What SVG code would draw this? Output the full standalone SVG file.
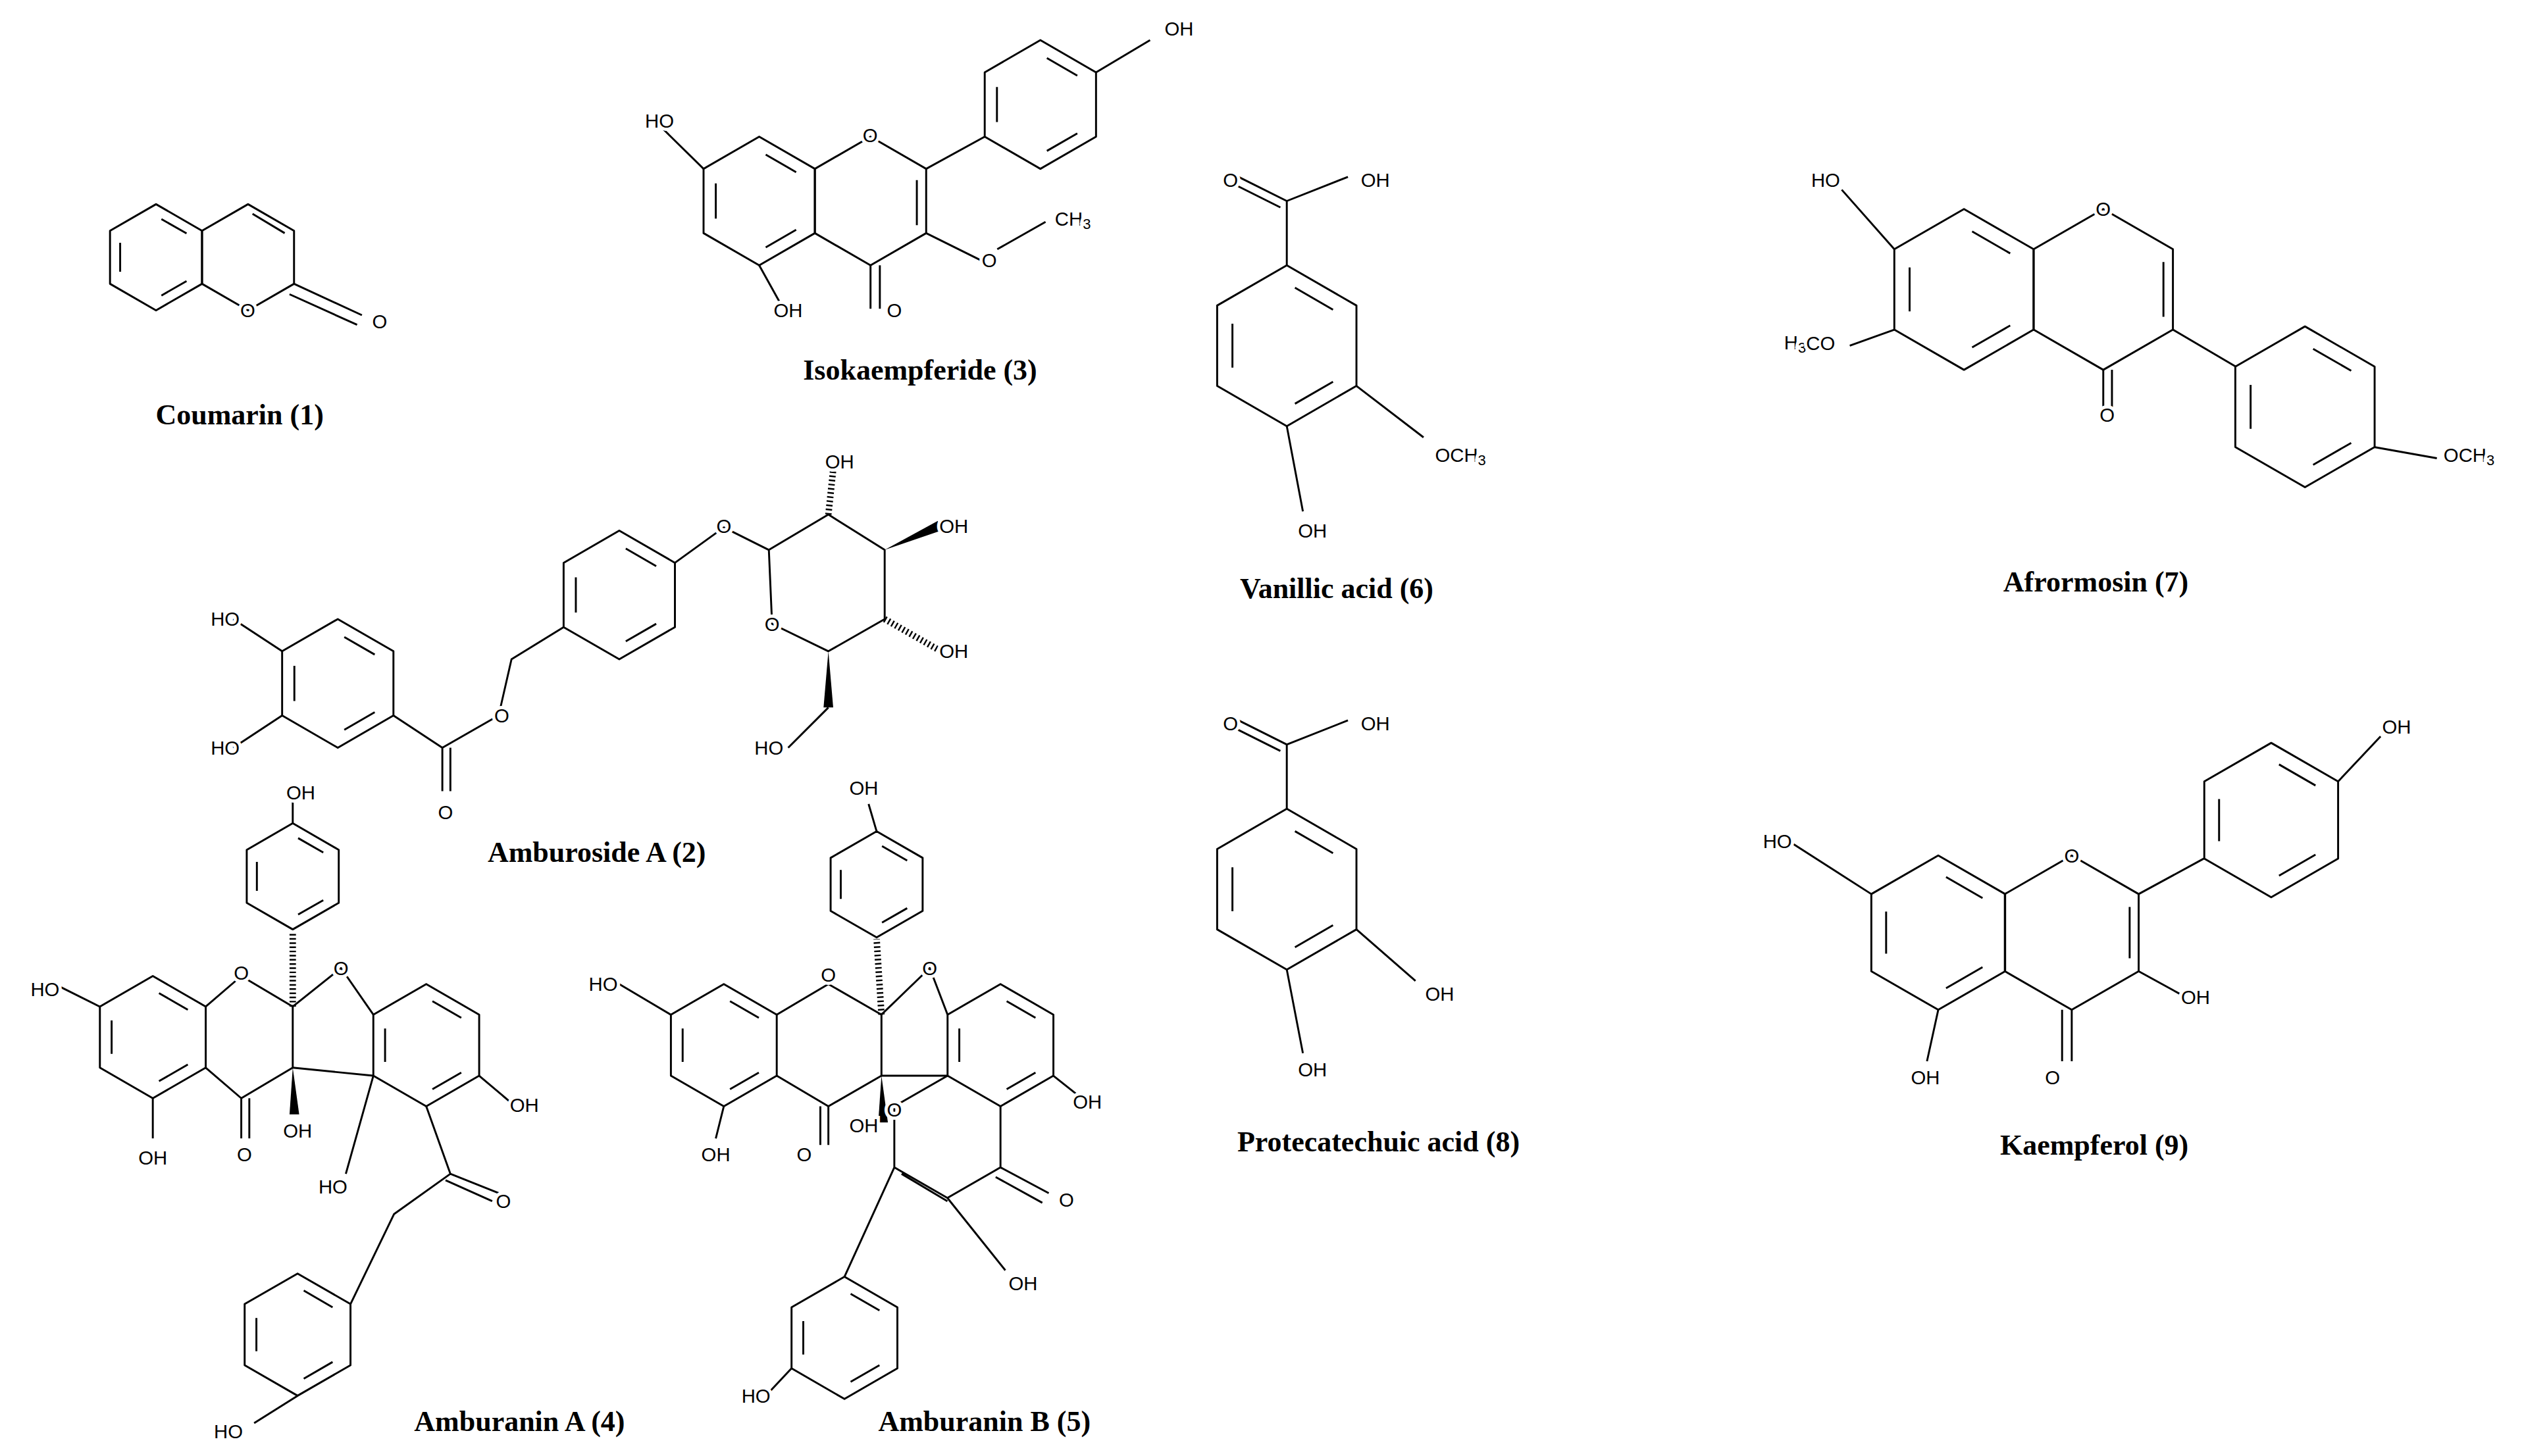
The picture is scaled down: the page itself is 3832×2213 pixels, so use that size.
<svg xmlns="http://www.w3.org/2000/svg" width="3832" height="2213" viewBox="0 0 3832 2213">
<style>
.b{fill:none;stroke:#000;stroke-width:1.2;stroke-linejoin:round}
.d{fill:none;stroke:#000;stroke-width:1.2;stroke-dasharray:0.7 1.3;stroke-dashoffset:-0.15}
.h{fill:none;stroke:#000;stroke-width:4;stroke-dasharray:1 1.6}
.w{fill:#000}
.a{font-family:"Liberation Sans",Arial,sans-serif;font-size:12px;text-anchor:middle;dominant-baseline:central;fill:#000;stroke:#fff;stroke-width:4;paint-order:stroke}
.l{font-family:"Liberation Serif",serif;font-weight:bold;font-size:18px;text-anchor:middle;fill:#000}
</style>
<defs>
<polygon id="h33" class="b" points="0,-33 28.6,-16.5 28.6,16.5 0,33 -28.6,16.5 -28.6,-16.5"/>
<polygon id="d33" class="d" pathLength="6" points="0,-25.7 22.3,-12.9 22.3,12.9 0,25.7 -22.3,12.9 -22.3,-12.9"/>
<polygon id="h38" class="b" points="0,-38 32.9,-19 32.9,19 0,38 -32.9,19 -32.9,-19"/>
<polygon id="d38" class="d" pathLength="6" points="0,-29.6 25.6,-14.8 25.6,14.8 0,29.6 -25.6,14.8 -25.6,-14.8"/>
<polygon id="h40" class="b" points="0,-40 34.6,-20 34.6,20 0,40 -34.6,20 -34.6,-20"/>
<polygon id="d40" class="d" pathLength="6" points="0,-31.2 27,-15.6 27,15.6 0,31.2 -27,15.6 -27,-15.6"/>
<polygon id="h48" class="b" points="0,-48 41.6,-24 41.6,24 0,48 -41.6,24 -41.6,-24"/>
<polygon id="d48" class="d" pathLength="6" points="0,-37.4 32.4,-18.7 32.4,18.7 0,37.4 -32.4,18.7 -32.4,-18.7"/>
<polygon id="h50" class="b" points="0,-50 43.3,-25 43.3,25 0,50 -43.3,25 -43.3,-25"/>
<polygon id="d50" class="d" pathLength="6" points="0,-39 33.8,-19.5 33.8,19.5 0,39 -33.8,19.5 -33.8,-19.5"/>
</defs>
<rect width="3832" height="2213" fill="#fff"/>
<g transform="scale(2.444)">
<g id="coumarin">
<use href="#h33" x="97" y="160"/><use href="#d33" x="97" y="160"/>
<use href="#h33" x="154.2" y="160"/>
<path class="b" d="M157,133 L177,145 M182.8,176.5 L225,196 M180,183 L222,202"/>
<text class="a" x="154" y="193">O</text><text class="a" x="236" y="200">O</text>
<text class="l" x="149" y="264">Coumarin (1)</text>
</g>
<g id="isokaempferide">
<use href="#h40" x="472" y="125"/><use href="#d40" x="472" y="125"/>
<use href="#h40" x="541.2" y="125"/>
<use href="#h40" x="646.8" y="65"/><use href="#d40" x="646.8" y="65"/>
<path class="b" d="M570,112 L570,140 M575.8,105 L612.2,85 M681.4,45 L715,25 M437.4,105 L412,80 M472,165 L487,192 M541.2,165 L541.2,192 M547,165 L547,192 M575.8,145 L610,162 M620,155 L650,138"/>
<text class="a" x="541" y="84">O</text><text class="a" x="733" y="18">OH</text><text class="a" x="410" y="75">HO</text>
<text class="a" x="490" y="193">OH</text><text class="a" x="556" y="193">O</text><text class="a" x="615" y="162">O</text>
<text class="a" x="667" y="136">CH<tspan font-size="9" dy="3">3</tspan></text>
<text class="l" x="572" y="236">Isokaempferide (3)</text>
</g>
<g id="vanillic">
<use href="#h50" x="800" y="215"/><use href="#d50" x="800" y="215"/>
<path class="b" d="M800,165 L800,125 L770,110 M796,129 L768,115 M800,125 L838,110 M800,265 L810,318 M843.3,240 L885,272"/>
<text class="a" x="765" y="112">O</text><text class="a" x="855" y="112">OH</text><text class="a" x="816" y="330">OH</text>
<text class="a" x="908" y="283">OCH<tspan font-size="9" dy="3">3</tspan></text>
<text class="l" x="831" y="372">Vanillic acid (6)</text>
</g>
<g id="protocatechuic">
<use href="#h50" x="800" y="553"/><use href="#d50" x="800" y="553"/>
<path class="b" d="M800,503 L800,463 L770,448 M796,467 L768,453 M800,463 L838,448 M800,603 L810,655 M843.3,578 L880,610"/>
<text class="a" x="765" y="450">O</text><text class="a" x="855" y="450">OH</text><text class="a" x="816" y="665">OH</text><text class="a" x="895" y="618">OH</text>
<text class="l" x="857" y="716">Protecatechuic acid (8)</text>
</g>
<g id="afrormosin">
<use href="#h50" x="1221" y="180"/><use href="#d50" x="1221" y="180"/>
<use href="#h50" x="1307.6" y="180"/>
<use href="#h50" x="1433" y="253"/><use href="#d50" x="1433" y="253"/>
<path class="b" d="M1345,163 L1345,197 M1350.9,205 L1390,228 M1476,278 L1515,285 M1177.7,155 L1145,118 M1177.7,205 L1150,215 M1307.6,230 L1307.6,255 M1313,230 L1313,255"/>
<text class="a" x="1307.6" y="130">O</text><text class="a" x="1135" y="112">HO</text>
<text class="a" x="1125" y="213">H<tspan font-size="9" dy="3">3</tspan><tspan dy="-3">CO</tspan></text>
<text class="a" x="1310" y="258">O</text>
<text class="a" x="1535" y="283">OCH<tspan font-size="9" dy="3">3</tspan></text>
<text class="l" x="1303" y="368">Afrormosin (7)</text>
</g>
<g id="kaempferol">
<use href="#h48" x="1205" y="580"/><use href="#d48" x="1205" y="580"/>
<use href="#h48" x="1288" y="580"/>
<use href="#h48" x="1412" y="510"/><use href="#d48" x="1412" y="510"/>
<path class="b" d="M1324,564 L1324,596 M1329.6,556 L1370,534 M1453.6,486 L1480,458 M1163.4,556 L1115,525 M1205,628 L1198,660 M1288,628 L1288,660 M1282,628 L1282,660 M1329.6,604 L1355,618"/>
<text class="a" x="1288" y="532">O</text><text class="a" x="1490" y="452">OH</text><text class="a" x="1105" y="523">HO</text>
<text class="a" x="1197" y="670">OH</text><text class="a" x="1276" y="670">O</text><text class="a" x="1365" y="620">OH</text>
<text class="l" x="1302" y="718">Kaempferol (9)</text>
</g>
<g id="amburoside">
<use href="#h40" x="210" y="425"/><use href="#d40" x="210" y="425"/>
<use href="#h40" x="385" y="370"/><use href="#d40" x="385" y="370"/>
<path class="b" d="M175.4,405 L145,385 M175.4,445 L145,465 M244.6,445 L275,465 L275,492 M280,465 L280,492 M275,465 L310,445 L318,410 L350.4,390 M419.6,350 L450,328 L478,342 L515,320 L550,342 L550,385 L515,405 L480,388 L478,342"/>
<path class="h" d="M515,320 L518,292 M550,385 L585,405"/>
<polygon class="w" points="550,342 583,324 585,330"/>
<polygon class="w" points="515,405 512,440 518,440"/>
<path class="b" d="M515,440 L490,465"/>
<text class="a" x="140" y="385">HO</text><text class="a" x="140" y="465">HO</text><text class="a" x="277" y="505">O</text>
<text class="a" x="312" y="445">O</text><text class="a" x="450" y="327">O</text><text class="a" x="480" y="388">O</text>
<text class="a" x="522" y="287">OH</text><text class="a" x="593" y="327">OH</text><text class="a" x="593" y="405">OH</text><text class="a" x="478" y="465">HO</text>
<text class="l" x="371" y="536">Amburoside A (2)</text>
</g>
<g id="amburaninA">
<use href="#h38" x="95" y="645"/><use href="#d38" x="95" y="645"/>
<path class="b" d="M127.9,626 L150,607 L182,626 L182,664 L150,683 L127.9,664 M150,683 L150,708 M155,683 L155,708"/>
<use href="#h33" x="182" y="545"/><use href="#d33" x="182" y="545"/>
<path class="h" d="M182,626 L182,580"/>
<path class="b" d="M182,512 L182,498 M182,626 L212,602 L232.1,631 M182,664 L232.1,669 M62,626 L38,614 M95,683 L95,708"/>
<polygon class="w" points="182,664 180,693 186,693"/>
<use href="#h38" x="265" y="650"/><use href="#d38" x="265" y="650"/>
<path class="b" d="M297.9,669 L318,686 M232.1,669 L215,730 M265,688 L280,730 L310,742 M277,734 L306,747 M280,730 L245,755 L217.9,811"/>
<use href="#h38" x="185" y="830"/><use href="#d38" x="185" y="830"/>
<path class="b" d="M185,868 L158,885"/>
<text class="a" x="28" y="615">HO</text><text class="a" x="95" y="720">OH</text><text class="a" x="152" y="718">O</text>
<text class="a" x="150" y="605">O</text><text class="a" x="187" y="493">OH</text><text class="a" x="212" y="602">O</text>
<text class="a" x="185" y="703">OH</text><text class="a" x="326" y="687">OH</text><text class="a" x="207" y="738">HO</text>
<text class="a" x="313" y="747">O</text><text class="a" x="142" y="890">HO</text>
<text class="l" x="323" y="890">Amburanin A (4)</text>
</g>
<g id="amburaninB">
<use href="#h38" x="450" y="650"/><use href="#d38" x="450" y="650"/>
<path class="b" d="M482.9,631 L515,612 L548,631 L548,669 L515,688 L482.9,669 M515,688 L515,712 M510,688 L510,712"/>
<use href="#h33" x="545" y="550"/><use href="#d33" x="545" y="550"/>
<path class="b" d="M545,517 L540,500"/>
<path class="h" d="M548,631 L545,584"/>
<polygon class="w" points="548,669 546,698 552,698"/>
<path class="b" d="M417,631 L385,612 M450,688 L445,708 M548,631 L578,602 L589.1,631 M548,669 L589.1,669"/>
<use href="#h38" x="622" y="650"/><use href="#d38" x="622" y="650"/>
<path class="b" d="M654.9,669 L675,685 M589.1,669 L556,688 L556,726 L589,745 L622,726 L622,688 M560.5,730 L589,747 M622,726 L652,742 M619,732 L648,748 M589,745 L625,790 M556,726 L525,794"/>
<use href="#h38" x="525" y="832"/><use href="#d38" x="525" y="832"/>
<path class="b" d="M492.1,851 L478,866"/>
<text class="a" x="375" y="612">HO</text><text class="a" x="445" y="718">OH</text><text class="a" x="500" y="718">O</text>
<text class="a" x="515" y="606">O</text><text class="a" x="537" y="490">OH</text><text class="a" x="578" y="602">O</text>
<text class="a" x="537" y="700">OH</text><text class="a" x="676" y="685">OH</text><text class="a" x="556" y="690">O</text>
<text class="a" x="663" y="746">O</text><text class="a" x="636" y="798">OH</text><text class="a" x="470" y="868">HO</text>
<text class="l" x="612" y="890">Amburanin B (5)</text>
</g>
</g>
</svg>
